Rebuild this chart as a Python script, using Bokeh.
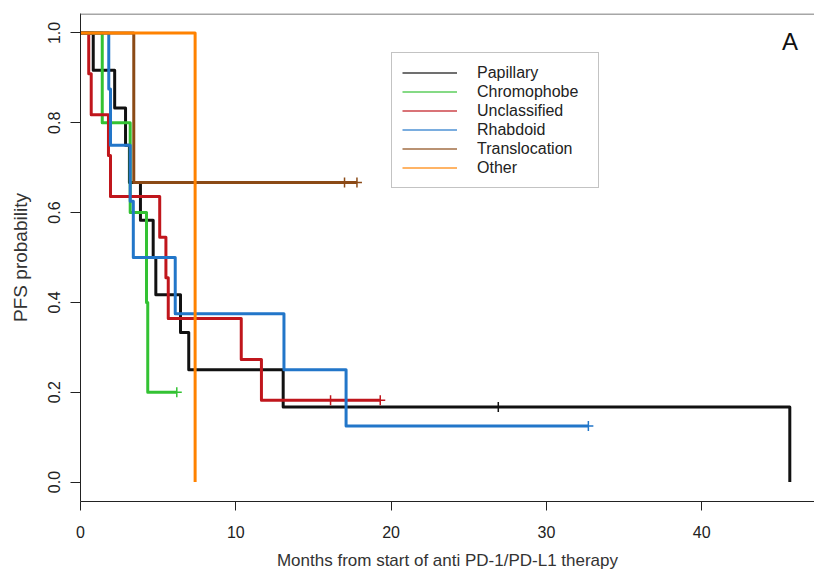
from bokeh.plotting import figure
from bokeh.models import (Range1d, Legend, LegendItem, FixedTicker, Label, Span)
from bokeh.embed import file_html
from bokeh.resources import INLINE

# ---- data ----
groups = ["Papillary", "Chromophobe", "Unclassified", "Rhabdoid", "Translocation", "Other"]
colors = ["#111111", "#33c233", "#c0161c", "#2276c9", "#8b4a16", "#ff8200"]

pap_t = [0, 0.82, 2.2, 2.9, 3.15, 3.86, 4.68, 4.85, 6.44, 6.97, 13.05, 45.67]
pap_s = [1.0, 0.917, 0.833, 0.75, 0.667, 0.583, 0.5, 0.417, 0.333, 0.25, 0.167, 0.0]
pap_cens = [26.9]
pap_cens_s = [0.167]

chr_t = [0, 1.4, 3.2, 4.25, 4.33, 6.2]
chr_s = [1.0, 0.8, 0.6, 0.4, 0.2, 0.2]
chr_cens = [6.2]
chr_cens_s = [0.2]

unc_t = [0, 0.53, 0.69, 1.8, 1.93, 5.1, 5.5, 5.65, 10.35, 11.65, 19.3]
unc_s = [1.0, 0.909, 0.818, 0.727, 0.636, 0.545, 0.455, 0.364, 0.273, 0.182, 0.182]
unc_cens = [16.1, 19.3]
unc_cens_s = [0.182, 0.182]

rha_t = [0, 1.82, 1.93, 3.2, 3.4, 6.1, 13.1, 17.1, 32.7]
rha_s = [1.0, 0.875, 0.75, 0.625, 0.5, 0.375, 0.25, 0.125, 0.125]
rha_cens = [32.7]
rha_cens_s = [0.125]

tra_t = [0, 3.43, 17.8]
tra_s = [1.0, 0.667, 0.667]
tra_cens = [17.0, 17.8]
tra_cens_s = [0.667, 0.667]

oth_t = [0, 7.38]
oth_s = [1.0, 0.0]
oth_cens = []
oth_cens_s = []

x_ticks = [0, 10, 20, 30, 40]
y_ticks = [0.0, 0.2, 0.4, 0.6, 0.8, 1.0]
y_tick_labels = ["0.0", "0.2", "0.4", "0.6", "0.8", "1.0"]

series = [
    (pap_t, pap_s, pap_cens, pap_cens_s),
    (chr_t, chr_s, chr_cens, chr_cens_s),
    (unc_t, unc_s, unc_cens, unc_cens_s),
    (rha_t, rha_s, rha_cens, rha_cens_s),
    (tra_t, tra_s, tra_cens, tra_cens_s),
    (oth_t, oth_s, oth_cens, oth_cens_s),
]

FONT = "Liberation Sans"
Y0, Y1 = -0.0433, 1.0433

p = figure(width=814, height=572, output_backend="svg", toolbar_location=None,
           x_range=Range1d(0, 47.26), y_range=Range1d(Y0, Y1),
           min_border_left=80, min_border_right=0, min_border_top=13,
           min_border_bottom=71)
p.outline_line_color = None
p.xgrid.visible = False
p.ygrid.visible = False
p.background_fill_color = "white"
p.border_fill_color = "white"

# top border of the box
p.add_layout(Span(location=Y1 - 0.001, dimension="width", line_color="#888888", line_width=1.5))

for (t, s, ct, cs), col in zip(series, colors):
    p.step(t, s, mode="after", line_color=col, line_width=3, line_join="round")
    if ct:
        p.scatter(ct, cs, marker="cross", size=10, line_color=col, line_width=1.5)

# axes
xa = p.xaxis[0]
xa.ticker = FixedTicker(ticks=x_ticks)
xa.minor_tick_line_color = None
xa.major_tick_in = 0
xa.major_tick_out = 9
xa.major_label_standoff = 15
xa.major_label_text_font = FONT
xa.major_label_text_font_size = "16px"
xa.major_label_text_color = "#222222"
xa.axis_label = "Months from start of anti PD-1/PD-L1 therapy"
xa.axis_label_text_font = FONT
xa.axis_label_text_font_size = "17px"
xa.axis_label_text_font_style = "normal"
xa.axis_label_text_color = "#333333"
xa.axis_label_standoff = 10
xa.axis_line_color = "#222222"
xa.major_tick_line_color = "#222222"

ya = p.yaxis[0]
ya.ticker = FixedTicker(ticks=y_ticks)
ya.major_label_overrides = {v: l for v, l in zip(y_ticks, y_tick_labels)}
ya.minor_tick_line_color = None
ya.major_tick_in = 0
ya.major_tick_out = 10
ya.major_label_orientation = "vertical"
ya.major_label_standoff = 10
ya.major_label_text_font = FONT
ya.major_label_text_font_size = "16px"
ya.major_label_text_color = "#222222"
ya.axis_label = "PFS probability"
ya.axis_label_text_font = FONT
ya.axis_label_text_font_size = "19px"
ya.axis_label_text_font_style = "normal"
ya.axis_label_text_color = "#333333"
ya.axis_label_standoff = 15
ya.axis_line_color = "#222222"
ya.major_tick_line_color = "#222222"

# legend (thin sample lines from dummy renderers)
nan = float("nan")
items = []
for g, col in zip(groups, colors):
    r = p.line([nan, nan], [nan, nan], line_color=col, line_width=2, line_alpha=0.6)
    items.append(LegendItem(label=g, renderers=[r]))
leg = Legend(items=items, location=(311, 313), padding=10, spacing=0,
             glyph_width=55, glyph_height=19, label_height=19, label_width=111,
             label_standoff=20, label_text_font=FONT, label_text_font_size="16px",
             label_text_color="#222222", border_line_color="#888888",
             border_line_width=1, background_fill_color="white", background_fill_alpha=1,
             margin=0)
p.add_layout(leg)

p.add_layout(Label(x=45.69, y=0.98, text="A", text_font=FONT, text_font_size="24px",
                   text_align="center", text_baseline="middle", text_color="#111111"))

open("out.html", "w").write(file_html(p, INLINE))
